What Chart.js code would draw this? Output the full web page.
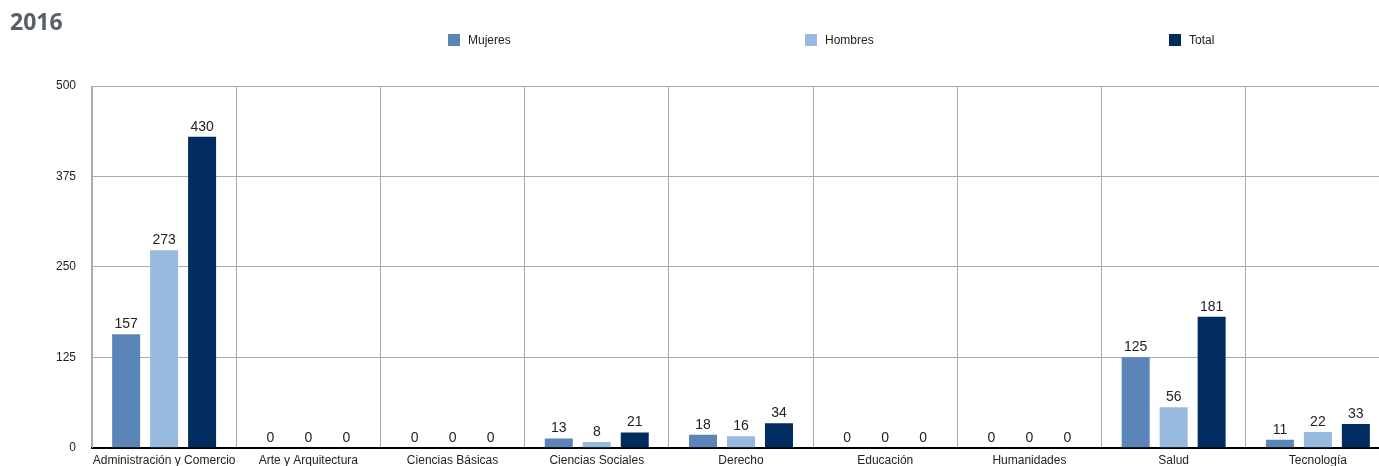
<!DOCTYPE html>
<html>
<head>
<meta charset="utf-8">
<script src="https://cdn.jsdelivr.net/npm/chart.js@4"></script>
<style>
  html, body { margin: 0; padding: 0; background: #fff; overflow: hidden; }
  body { width: 1379px; height: 466px; position: relative; font-family: "Liberation Sans", Arial, sans-serif; }
  #title { position: absolute; left: 10px; top: 5px; font: bold 23px "Open Sans", "DejaVu Sans", sans-serif; color: #56606b; }
  .legend-item { position: absolute; top: 33px; font-size: 12px; color: #222; display: flex; align-items: center; }
  .legend-item span { display: inline-block; width: 12px; height: 12px; margin-right: 8px; }
  #chart { position: absolute; left: 0; top: 0; }
</style>
</head>
<body>
<canvas id="chart" width="1395" height="471"></canvas>
<div id="title">2016</div>
<div class="legend-item" style="left:448px"><span style="background:#5b84b8"></span>Mujeres</div>
<div class="legend-item" style="left:805px"><span style="background:#97bade"></span>Hombres</div>
<div class="legend-item" style="left:1169px"><span style="background:#002c5f"></span>Total</div>
<script>
const categories = [
  "Administración y Comercio", "Arte y Arquitectura", "Ciencias Básicas",
  "Ciencias Sociales", "Derecho", "Educación", "Humanidades", "Salud", "Tecnología"
];
const mujeres = [157, 0, 0, 13, 18, 0, 0, 125, 11];
const hombres = [273, 0, 0, 8, 16, 0, 0, 56, 22];
const total = [430, 0, 0, 21, 34, 0, 0, 181, 33];
const yTicks = [0, 125, 250, 375, 500];

// draws the value above each bar
const valueLabels = {
  id: "valueLabels",
  afterDatasetsDraw(chart) {
    const ctx = chart.ctx;
    ctx.save();
    ctx.font = "14px 'Liberation Sans', Arial, sans-serif";
    ctx.fillStyle = "#222";
    ctx.textAlign = "center";
    ctx.textBaseline = "bottom";
    chart.data.datasets.forEach((ds, i) => {
      chart.getDatasetMeta(i).data.forEach((bar, j) => {
        ctx.fillText(String(ds.data[j]), bar.x, bar.y - 3);
      });
    });
    ctx.restore();
  }
};

new Chart(document.getElementById("chart"), {
  type: "bar",
  data: {
    labels: categories,
    datasets: [
      { label: "Mujeres", data: mujeres, backgroundColor: "#5b84b8" },
      { label: "Hombres", data: hombres, backgroundColor: "#97bade" },
      { label: "Total", data: total, backgroundColor: "#002c5f" }
    ]
  },
  options: {
    responsive: false,
    animation: false,
    devicePixelRatio: 1,
    datasets: { bar: { categoryPercentage: 0.79, barPercentage: 0.737 } },
    layout: { padding: { top: 86, right: 5, left: 0, bottom: 0 } },
    plugins: { legend: { display: false }, tooltip: { enabled: false } },
    scales: {
      x: {
        grid: { offset: true, color: "#aaa", drawTicks: false },
        border: { color: "#000", width: 2 },
        ticks: { color: "#222", font: { size: 12, family: "'Liberation Sans', Arial, sans-serif" }, padding: 6, maxRotation: 0, autoSkip: false },
        afterFit: s => { s.height = 19; }
      },
      y: {
        min: 0,
        max: 500,
        afterBuildTicks: s => { s.ticks = yTicks.map(v => ({ value: v })); },
        grid: { color: "#aaa", drawTicks: false },
        border: { color: "#aaa" },
        ticks: { color: "#222", font: { size: 12, family: "'Liberation Sans', Arial, sans-serif" }, padding: 16 },
        afterFit: s => { s.width = 92; }
      }
    }
  },
  plugins: [valueLabels]
});
</script>
</body>
</html>
